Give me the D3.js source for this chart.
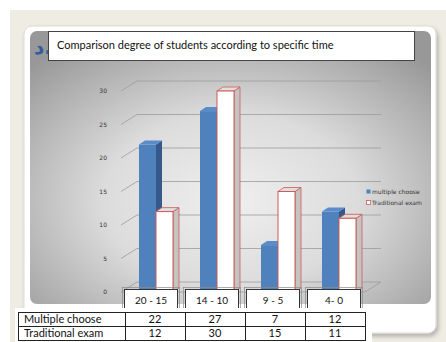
<!DOCTYPE html>
<html>
<head>
<meta charset="utf-8">
<script src="https://cdn.jsdelivr.net/npm/d3@7"></script>
<style>
  body { margin: 0; background: #fff; }
  svg { display: block; }
</style>
</head>
<body>
<div id="chartWrapper"></div>
<script>
var categories = ["20 - 15", "14 - 10", "9 - 5", "4- 0"];
var seriesNames = ["Multiple choose", "Traditional exam"];
var legendNames = ["multiple choose", "Traditional exam"];
var multipleChoose = [22, 27, 7, 12];
var traditionalExam = [12, 30, 15, 11];
var yTicks = [0, 5, 10, 15, 20, 25, 30];
var titleText = "Comparison degree of students according to specific time";

var w = 446, h = 342;
var svg = d3.select("#chartWrapper").append("svg")
    .attr("width", w)
    .attr("height", h);

var defs = svg.append("defs");
var grad = defs.append("radialGradient")
    .attr("id", "panel-gradient")
    .attr("cx", "50%").attr("cy", "62%").attr("r", "70%");
grad.selectAll("stop")
    .data([
        {offset: "0%", color: "#efefef"},
        {offset: "45%", color: "#dcdcdc"},
        {offset: "100%", color: "#989898"}
    ])
    .enter().append("stop")
    .attr("offset", function(d){ return d.offset; })
    .attr("stop-color", function(d){ return d.color; });

var shadow = defs.append("filter").attr("id", "shadow")
    .attr("x", "-5%").attr("y", "-5%").attr("width", "115%").attr("height", "115%");
shadow.append("feDropShadow")
    .attr("dx", 2).attr("dy", 3).attr("stdDeviation", 2)
    .attr("flood-color", "#000").attr("flood-opacity", 0.25);

// slide background
svg.append("rect").attr("x", 10).attr("y", 10).attr("width", w - 10).attr("height", h - 10)
    .attr("fill", "#eeece3");
svg.append("rect").attr("x", 24).attr("y", 26).attr("width", 412).attr("height", 307)
    .attr("rx", 8).attr("fill", "#fff").attr("stroke", "#dddbd2")
    .attr("filter", "url(#shadow)");
svg.append("rect").attr("x", 30).attr("y", 31).attr("width", 401).attr("height", 273)
    .attr("rx", 7).attr("fill", "url(#panel-gradient)");

svg.append("text")
    .attr("x", 34).attr("y", 54)
    .style("font-family", "'DejaVu Sans', sans-serif")
    .style("font-size", "20px")
    .style("font-weight", "bold")
    .style("fill", "#2f5d9c")
    .text("د.");

// title box
svg.append("rect").attr("x", 48.5).attr("y", 31.5).attr("width", 366).attr("height", 29)
    .attr("fill", "#fff").attr("stroke", "#444").attr("stroke-width", 1);
svg.append("text")
    .attr("x", 57).attr("y", 49)
    .style("font-family", "Lato, sans-serif")
    .style("font-size", "11px")
    .style("fill", "#111")
    .text(titleText);

// plot geometry
var depthX = 16, depthY = -10;
var barDX = 6, barDY = -4;
var y = d3.scaleLinear().domain([0, 30]).range([292, 91]);
var x = d3.scaleBand().domain(categories).range([125.5, 369.5]);
var barW = 17;
var floorLeft = 121, floorRight = 365;

var chart = svg.append("g");

// gridlines on side wall and back wall
chart.selectAll(".grid")
    .data(yTicks)
    .enter().append("path")
    .attr("class", "grid")
    .attr("d", function(d){
        var yy = y(d);
        return "M" + floorLeft + "," + yy + "L" + (floorLeft + depthX) + "," + (yy + depthY) +
            "L" + (floorRight + depthX) + "," + (yy + depthY);
    })
    .attr("fill", "none")
    .attr("stroke", "#9c9c9c")
    .attr("stroke-width", 0.8);

// floor outline
chart.append("path")
    .attr("d", "M" + floorLeft + "," + y(0) + "L" + floorRight + "," + y(0) +
        "L" + (floorRight + depthX) + "," + (y(0) + depthY))
    .attr("fill", "none").attr("stroke", "#9c9c9c").attr("stroke-width", 0.8);

// y axis labels
var yAxis = d3.axisLeft(y).tickValues(yTicks).tickSize(0).tickPadding(0);
var yAxisG = chart.append("g")
    .attr("transform", "translate(107,0)")
    .call(yAxis);
yAxisG.select(".domain").remove();
yAxisG.selectAll("text")
    .style("font-family", "'DejaVu Sans', sans-serif")
    .style("font-size", "6px")
    .style("fill", "#333");

// 3D bars
var series = [
    {name: seriesNames[0], values: multipleChoose, offset: -barW,
     front: "#4f81bd", side: "#34598a", top: "#5a8ccb", stroke: "none"},
    {name: seriesNames[1], values: traditionalExam, offset: 0,
     front: "#ffffff", side: "#c4c4c4", top: "#dedede", stroke: "#cf5a57"}
];

series.forEach(function(s){
    var g = chart.append("g");
    var bars = g.selectAll("g")
        .data(categories.map(function(c, i){ return {cat: c, value: s.values[i]}; }))
        .enter().append("g");
    function x0(d){ return x(d.cat) + x.bandwidth() / 2 + s.offset; }
    bars.append("path")
        .attr("d", function(d){
            var a = x0(d) + barW, t = y(d.value), b = y(0);
            return "M" + a + "," + b + "L" + (a + barDX) + "," + (b + barDY) +
                "L" + (a + barDX) + "," + (t + barDY) + "L" + a + "," + t + "Z";
        })
        .attr("fill", s.side)
        .attr("stroke", s.stroke).attr("stroke-width", 0.8);
    bars.append("path")
        .attr("d", function(d){
            var l = x0(d), t = y(d.value);
            return "M" + l + "," + t + "L" + (l + barDX) + "," + (t + barDY) +
                "L" + (l + barW + barDX) + "," + (t + barDY) + "L" + (l + barW) + "," + t + "Z";
        })
        .attr("fill", s.top)
        .attr("stroke", s.stroke).attr("stroke-width", 0.8);
    bars.append("rect")
        .attr("x", x0)
        .attr("y", function(d){ return y(d.value); })
        .attr("width", barW)
        .attr("height", function(d){ return y(0) - y(d.value); })
        .attr("fill", s.front)
        .attr("stroke", s.stroke).attr("stroke-width", 1);
});

// category label boxes
var boxW = 53;
var catG = chart.selectAll(".cat")
    .data(categories)
    .enter().append("g")
    .attr("class", "cat")
    .attr("transform", function(d){ return "translate(" + (x(d) + x.bandwidth() / 2 - 5) + ",0)"; });
catG.append("rect")
    .attr("x", -boxW / 2 - 2).attr("y", 287.5).attr("width", boxW + 4).attr("height", 26)
    .attr("fill", "none").attr("stroke", "#8a8a8a").attr("stroke-width", 0.7);
catG.append("rect")
    .attr("x", -boxW / 2).attr("y", 289.5).attr("width", boxW).attr("height", 24)
    .attr("fill", "#fff").attr("stroke", "#333").attr("stroke-width", 1);
catG.append("text")
    .attr("y", 304)
    .attr("text-anchor", "middle")
    .style("font-family", "Lato, sans-serif")
    .style("font-size", "10px")
    .style("fill", "#111")
    .text(function(d){ return d; });

// legend
var legend = svg.append("g").attr("transform", "translate(366,0)");
var legendY = [192, 203];
legend.selectAll("rect")
    .data(legendNames)
    .enter().append("rect")
    .attr("x", 0.5)
    .attr("y", function(d, i){ return legendY[i] - 2.5; })
    .attr("width", 4).attr("height", 4)
    .attr("fill", function(d, i){ return series[i].front; })
    .attr("stroke", function(d, i){ return i === 0 ? "none" : series[i].stroke; })
    .attr("stroke-width", 0.8);
legend.selectAll("text")
    .data(legendNames)
    .enter().append("text")
    .attr("x", 6)
    .attr("y", function(d, i){ return legendY[i] + 2; })
    .style("font-family", "'DejaVu Sans', sans-serif")
    .style("font-size", "6px")
    .style("fill", "#333")
    .text(function(d){ return d; });

// data table
var tableX = 18, tableY = 312, rowH = 14, firstCol = 107, colW = 60;
svg.append("rect").attr("x", 15).attr("y", 308).attr("width", 357).attr("height", 34)
    .attr("fill", "#fff");
var table = svg.append("g");
var rows = [multipleChoose, traditionalExam];
rows.forEach(function(vals, r){
    var ry = tableY + r * rowH;
    table.append("rect")
        .attr("x", tableX + 0.5).attr("y", ry + 0.5)
        .attr("width", firstCol).attr("height", rowH)
        .attr("fill", "#fff").attr("stroke", "#222");
    table.append("text")
        .attr("x", tableX + 6).attr("y", ry + 11)
        .style("font-family", "Lato, sans-serif")
        .style("font-size", "11px")
        .style("fill", "#111")
        .text(seriesNames[r]);
    table.selectAll(".cell" + r)
        .data(vals)
        .enter().append("rect")
        .attr("x", function(d, i){ return tableX + firstCol + i * colW + 0.5; })
        .attr("y", ry + 0.5)
        .attr("width", colW).attr("height", rowH)
        .attr("fill", "#fff").attr("stroke", "#222");
    table.selectAll(".val" + r)
        .data(vals)
        .enter().append("text")
        .attr("x", function(d, i){ return tableX + firstCol + i * colW + colW / 2; })
        .attr("y", ry + 11)
        .attr("text-anchor", "middle")
        .style("font-family", "Lato, sans-serif")
        .style("font-size", "11px")
        .style("fill", "#111")
        .text(function(d){ return d; });
});
</script>
</body>
</html>
